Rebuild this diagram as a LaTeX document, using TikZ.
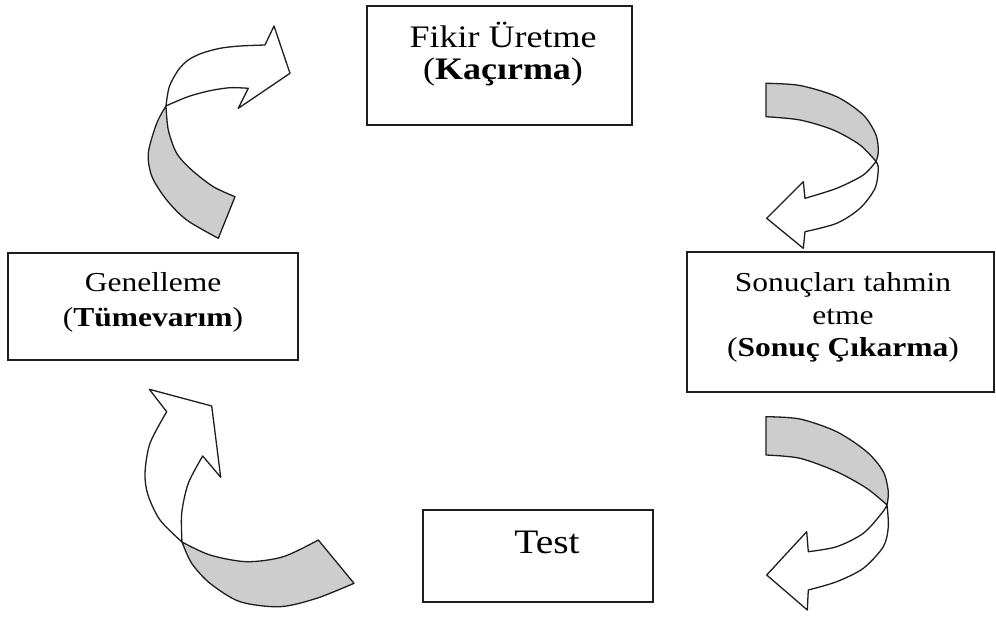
\documentclass[tikz,border=0pt]{standalone}
\usepackage{fontspec}
\setmainfont{Liberation Serif}[FakeStretch=1.15]
\definecolor{ribbonback}{RGB}{205,205,205}
\definecolor{edge}{RGB}{30,30,30}
\newcommand{\bigtxt}{\fontsize{31.3}{36}\selectfont}
\newcommand{\midtxt}{\fontsize{27.4}{32}\selectfont}
\newcommand{\testtxt}{\fontsize{34.3}{40}\selectfont}
\begin{document}
\begin{tikzpicture}[x=1pt,y=-1pt,
  box/.style={draw=edge, line width=1.4pt, inner sep=0pt, outer sep=0pt, fill=white},
  lbl/.style={anchor=base, inner sep=0pt, outer sep=0pt, text=black},
  front/.style={draw=edge, line width=1.3pt, line join=round, fill=white},
  back/.style={draw=edge, line width=1.3pt, line join=round, fill=ribbonback}]
\useasboundingbox[fill=white] (0,0) rectangle (996,617);

% boxes
\node[box, minimum width=265pt, minimum height=119pt] (fikir) at (499.5,65.5) {};
\node[box, minimum width=290pt, minimum height=107pt] (genel) at (153,306.5) {};
\node[box, minimum width=307pt, minimum height=140pt] (sonuc) at (840.5,322) {};
\node[box, minimum width=230pt, minimum height=92pt] (test) at (538,556) {};

% box texts
\node[lbl, font=\bigtxt] (fikirA) at (503,48) {Fikir Üretme};
\node[lbl, font=\bigtxt] (fikirB) at (503,80) {(\textbf{Kaçırma})};
\node[lbl, font=\midtxt] (genelA) at (153,292) {Genelleme};
\node[lbl, font=\midtxt] (genelB) at (153,327) {(\textbf{Tümevarım})};
\node[lbl, font=\midtxt] (sonucA) at (843,292) {Sonuçları tahmin};
\node[lbl, font=\midtxt] (sonucB) at (843,325) {etme};
\node[lbl, font=\midtxt] (sonucC) at (843,357) {(\textbf{Sonuç Çıkarma})};
\node[lbl, font=\testtxt] (testA) at (547,553) {Test};

% curved ribbon arrow, upper left
\draw[back] (166,106) -- plot[smooth] coordinates {(166,106) (168.3,130) (176.7,153.3) (191.7,170) (213.3,186.7) (235,196.7)}
  -- (218.3,238.3) -- plot[smooth] coordinates {(218.3,238.3) (186.7,220) (166.7,200) (152,176.7) (148.3,153.3) (156.7,123.3) (166,106)} -- cycle;
\draw[front] (166,106) -- plot[smooth] coordinates {(166,106) (169.3,86.7) (178.3,70) (188.3,60) (201.7,53.3) (220,48.3) (240,46) (265,45)}
  -- (274,26) -- (290,73.3) -- (238.3,108.3) -- (248.3,88.3)
  -- plot[smooth] coordinates {(248.3,88.3) (230,87.7) (210,90.7) (190,96) (173.3,102.7) (166,106)} -- cycle;

% curved ribbon arrow, upper right
\draw[back] (766,83.3) -- plot[smooth] coordinates {(766,83.3) (800,85.5) (836.7,96.7) (863.3,115) (876,135) (878.3,152) (876,161.5)}
  -- plot[smooth] coordinates {(876,161.5) (860,145) (833.3,130) (800,120) (766,116.7)} -- cycle;
\draw[front] (876,161.5) -- plot[smooth] coordinates {(876,161.5) (863.3,175) (836.7,188.3) (805,198.3)}
  -- (803.3,181.7) -- (766.7,218.3) -- (803.3,248.3) -- (805,231.7)
  -- plot[smooth] coordinates {(805,231.7) (836.7,223.3) (860,208.3) (875,188.3) (878.3,168.3) (876,161.5)} -- cycle;

% curved ribbon arrow, lower right
\draw[back] (766,416.7) -- plot[smooth] coordinates {(766,416.7) (800,419) (836.7,431.7) (866.7,451.7) (883.3,471.7) (888.3,491.7) (887,505)}
  -- plot[smooth] coordinates {(887,505) (866.7,488.3) (836.7,471.7) (800,458.3) (766,455)} -- cycle;
\draw[front] (887,505) -- plot[smooth] coordinates {(887,505) (881.7,513.3) (863.3,533.3) (836.7,546.7) (808.3,551.7)}
  -- (806.7,531.7) -- (766.7,575) -- (807.3,610) -- (808.3,590)
  -- plot[smooth] coordinates {(808.3,590) (836.7,581.7) (863.3,568.3) (883.3,546.7) (888.3,526.7) (887,505)} -- cycle;

% curved ribbon arrow, lower left
\draw[back] (182,542) -- plot[smooth] coordinates {(182,542) (210,555) (246.7,561.7) (283.3,556.7) (318.3,540)}
  -- (354,583.3) -- plot[smooth] coordinates {(354,583.3) (316.7,598.3) (280,606.7) (240,601.7) (210,583.3) (191.7,563.3) (182,542)} -- cycle;
\draw[front] (182,542) -- plot[smooth] coordinates {(182,542) (160,520) (148,495) (145,473.3) (150,443.3) (166.7,411.7)}
  -- (149.3,389.3) -- (211.7,406) -- (220.7,477.3) -- (202.7,456)
  -- plot[smooth] coordinates {(202.7,456) (188.3,483.3) (181.7,513.3) (182,542)} -- cycle;
\end{tikzpicture}
\end{document}
